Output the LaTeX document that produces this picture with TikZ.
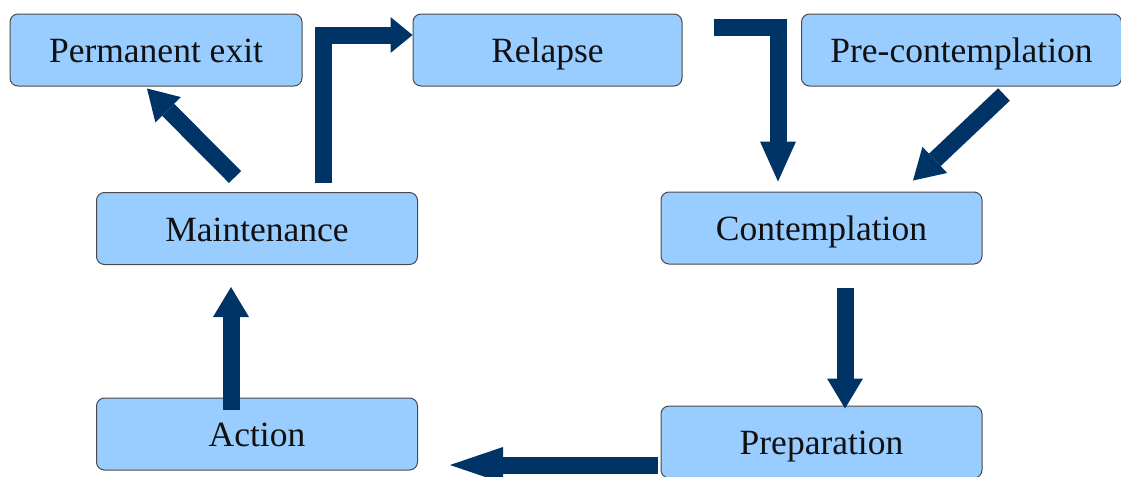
\documentclass[tikz,border=0pt]{standalone}
\usepackage{fontspec}
\setmainfont{Liberation Serif}
\usepackage{xcolor}
\usetikzlibrary{arrows.meta, positioning, calc}
\definecolor{ink}{HTML}{111111}
\definecolor{rule}{HTML}{4A4A4A}
\definecolor{stagefill}{HTML}{99CCFF}
\definecolor{navy}{HTML}{003366}
\tikzset{
  font=\fontsize{17.75}{20}\selectfont,
  %
  stage/.style={
    draw=rule, line width=0.5pt, fill=stagefill, rounded corners=4pt,
    inner sep=0pt, align=center, text=ink, minimum height=36pt,
    text height=14pt, text depth=1.5pt,
  },
  %
  flow/.style={draw=navy, line width=8.5pt, line join=miter,
               -{Triangle[length=#1, width=18pt, line width=0pt]}},
  flow/.default=15pt,
}
\begin{document}
\begin{tikzpicture}[x=0.5pt, y=-0.5pt]

\useasboundingbox (0,0) rectangle (1121,477);

% =========================================================================
% stages
% =========================================================================
\node[stage, minimum width=146pt]   (exit)    at (156,50)    {Permanent exit};
\node[stage, minimum width=134.5pt] (relapse) at (547.5,50)  {Relapse};
\node[stage, minimum width=160pt]   (precon)  at (961.5,50)  {Pre-contemplation};
\node[stage, minimum width=160.5pt] (maint)   at (257,228.5) {Maintenance};
\node[stage, minimum width=160.5pt] (contemp) at (821.5,228) {Contemplation};
\node[stage, minimum width=160.5pt] (action)  at (257,434)   {Action};
\node[stage, minimum width=160.5pt] (prep)    at (821.5,442) {Preparation};

% =========================================================================
% transitions
% =========================================================================
\draw[flow] ($(maint.north)+(-22,-15)$) -- ($(exit.south)+(-9,2)$);
\draw[flow=11pt] ($(maint.north)+(66,-9)$) |- ($(relapse.west)+(0,-15)$);
\draw[flow=20pt] ($(relapse.east)+(31,-22.5)$) -| ($(contemp.north)+(-43.5,-10)$);
\draw[flow] ($(precon.south)+(42.5,8)$) -- ($(contemp.north)+(91.5,-11)$);
\draw[flow] ($(contemp.south)+(23.5,23)$) -- ($(prep.north)+(23.5,3)$);
\draw[flow=26.5pt] ($(prep.west)+(-3,23)$) -- ($(action.east)+(32,31)$);
\draw[flow] ($(action.north)+(-26,12)$) -- ($(maint.south)+(-26,22)$);

\end{tikzpicture}
\end{document}
